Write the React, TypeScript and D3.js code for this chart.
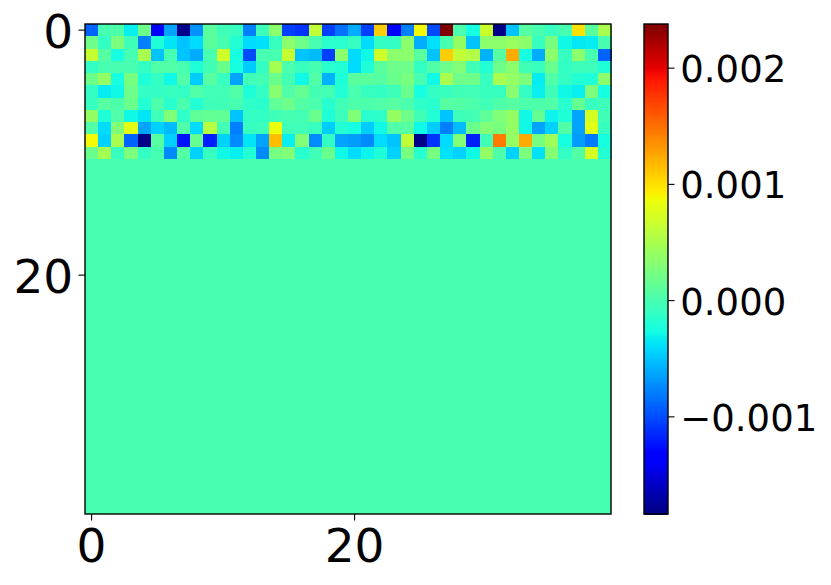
import React from "react";
import * as d3 from "d3";

const WIDTH = 831;
const HEIGHT = 585;
const COLS = 40;
const ROWS = 40;

// Values in units of 1e-4; all rows from row 11 down are zero.
const row0 = [-9,0,0.3,-3.2,2,-13.6,-6.3,-18,-7,1,-0.5,-0.8,-7.8,-0.5,3.5,-10.5,-11,6.3,-10.5,-8.4,-6,-10.5,10.8,-13.6,-7.8,8.8,-10,23.8,0.2,-2.5,6.8,-18,-5,0.8,0,-0.8,0,10,1,5];
const row1 = [2,-1,2.7,-0.3,-7.8,-2,-3.6,-5,-4,1,0,-1.8,-4,-3.8,-0.8,3.5,2,0,-1.5,-1.5,-0.8,-4,-1,-1,3.5,-6,-3.8,0,4,-5,3.5,3.5,4.2,3.5,-0.8,2.5,-2.8,-3.5,-3.3,0];
const row2 = [6.5,0.8,-2.5,0,5,-5,0,-5,-6,0,7,-2.5,-10,0,0,6.5,-5,-5.3,-10.5,3.5,-4,-2.8,7,3.5,3.5,1,-5,10.8,6.3,5.5,-5.7,0.8,12.4,-2.5,-6,3.5,-0.8,3.5,0,-9];
const row3 = [-1,0,0,0,-1,0.5,0.5,0,-2,-0.3,1.8,-2.5,-4.6,-1,4.8,0.2,-0.8,0,-1.5,-1.8,-4,-2,1,2,2,-1,0.5,2,3,-0.3,-1.8,2,3.5,-0.3,-0.7,1.8,-1,-0.5,-0.5,-2];
const row4 = [2,4,-2.5,2.5,-2,-1,-2.8,0.5,-4.6,0.8,-0.8,-6.3,-0.3,-0.2,1.8,-0.2,-2.8,0.5,-5.7,-2,1,1,0.7,1.8,2.5,0,-2.8,5,2,2,-0.8,5,4,2.7,-3.3,0.5,-1,-1.8,-2,3.5];
const row5 = [-1,-3.3,-2.8,2,-1,-1,-0.8,-1,0.5,-0.3,-0.3,0.5,-2,-1,3.3,0.5,1.5,-0.2,-0.2,-1.8,0.2,-0.8,-1,-0.5,1.8,-2.5,-1,-0.7,-0.3,-0.3,-0.8,-0.8,3.3,-1,-3.2,-0.4,-2.8,-3.2,2.7,-2.5];
const row6 = [-0.8,0.8,0.3,1.8,-1.8,0.3,-1.5,0.2,-1.8,-0.5,-0.3,0,-1.2,-1.5,1.3,2,0.6,0.2,-1.6,-0.3,0.3,0.3,0.5,0.8,0.2,-1.2,-1.5,0.8,0.6,0.3,-0.3,0.4,0.8,0.3,0.3,0.5,-1.5,1.5,-0.8,-0.5];
const row7 = [4,-2,0.5,-2.8,-3.6,-0.3,3,-1.2,1.2,1.5,1.3,-5,-1,-1,-0.3,0,-0.2,1.8,-2,-0.5,3,-1.5,-1.2,4,2,-0.3,-1.8,-5,-0.5,-0.2,1.2,3,4,-2.8,1.5,-3,-2,-6.3,7.3,-0.3];
const row8 = [0.5,-4,3,8,-6.3,-4.4,-5.3,0.5,-4,5.8,-0.2,-7.8,-0.8,-0.6,8.5,-0.3,-0.3,-0.8,-4.6,-1.8,-2.5,-4.6,-2.8,0.5,0.8,-2.8,-4.6,-7.8,-5.3,1.8,3,2.5,4,-2.8,-6.3,-4.4,0.5,-6.3,8,-0.8];
const row9 = [8.8,-4.4,5,-9,-18,0.8,-4.4,-12.3,1.5,-11.8,-4.4,-7.4,-3.6,-6.3,11.5,-3.2,3,-7.4,-1,-6.3,-6.6,-7.4,-4,-5,6.2,-18,-11,-4,3,-11.8,-0.3,14.5,4,12.4,2.5,4.5,-2.5,-6.6,-8,-2.5];
const row10 = [1.8,4.8,-0.8,2.7,-1,0,-7.4,0.6,-4.4,-0.8,-2.8,-3.2,-1.8,-7.4,2.5,3,-1.6,-0.3,1.8,-2.8,-4,-3,-2,-4.4,2.5,-1.6,2.5,-3.8,-4.4,-2.8,4,0.3,-4.4,2.7,-3.8,3.2,-1,0.6,7.3,-1.8];
const activeRows = [row0,row1,row2,row3,row4,row5,row6,row7,row8,row9,row10];

const V_MIN = -18.36;
const V_MAX = 23.8;
const axisTicks = [0, 20];
const colorbarTicks = [-10, 0, 10, 20];

const M = { left: 85, right: 611, top: 24, bottom: 514 };
const CB = { left: 644, right: 668 };

const jetR = d3.scaleLinear().domain([0, 0.35, 0.66, 0.89, 1]).range([0, 0, 1, 1, 0.5]).clamp(true);
const jetG = d3.scaleLinear().domain([0, 0.125, 0.375, 0.64, 0.91, 1]).range([0, 0, 1, 1, 0, 0]).clamp(true);
const jetB = d3.scaleLinear().domain([0, 0.11, 0.34, 0.65, 1]).range([0.5, 1, 1, 0, 0]).clamp(true);
const jet = (t: number) =>
  d3.rgb(jetR(t) * 255, jetG(t) * 255, jetB(t) * 255).formatHex();

const norm = d3.scaleLinear().domain([V_MIN, V_MAX]).range([0, 1]);
const x = d3.scaleLinear().domain([-0.5, COLS - 0.5]).range([M.left, M.right]);
const y = d3.scaleLinear().domain([-0.5, ROWS - 0.5]).range([M.top, M.bottom]);
const cbY = d3.scaleLinear().domain([V_MIN, V_MAX]).range([M.bottom, M.top]);
const FONT = "'DejaVu Sans', sans-serif";
const cbSteps = d3.range(0, 256);

const fmt = (v: number) => {
  const n = v / 10000;
  return (n < 0 ? "\u2212" : "") + Math.abs(n).toFixed(3);
};

export default function App() {
  return (
    <svg
      width={WIDTH}
      height={HEIGHT}
      style={{ position: "absolute", left: 0, top: 0, background: "#fff" }}
    >
      <rect
        x={M.left}
        y={M.top}
        width={M.right - M.left}
        height={M.bottom - M.top}
        fill={jet(norm(0))}
      />
      <g shapeRendering="crispEdges">
        {activeRows.map((row, r) =>
          row.map((v, c) => (
            <rect
              key={`${r}-${c}`}
              x={x(c - 0.5)}
              y={y(r - 0.5)}
              width={x(c + 0.5) - x(c - 0.5) + 0.5}
              height={y(r + 0.5) - y(r - 0.5) + 0.5}
              fill={jet(norm(v))}
            />
          ))
        )}
      </g>
      <rect
        x={M.left}
        y={M.top}
        width={M.right - M.left}
        height={M.bottom - M.top}
        fill="none"
        stroke="#000"
        strokeWidth={1.4}
      />
      {axisTicks.map((t) => (
        <g key={`x${t}`}>
          <line x1={x(t)} x2={x(t)} y1={M.bottom} y2={M.bottom + 6.5} stroke="#000" strokeWidth={1.1} />
          <text x={x(t)} y={M.bottom + 48} textAnchor="middle" fontFamily={FONT} fontSize={47}>
            {t}
          </text>
        </g>
      ))}
      {axisTicks.map((t) => (
        <g key={`y${t}`}>
          <line x1={M.left} x2={M.left - 6.5} y1={y(t)} y2={y(t)} stroke="#000" strokeWidth={1.1} />
          <text x={73.2} y={y(t) + 17.5} textAnchor="end" fontFamily={FONT} fontSize={47}>
            {t}
          </text>
        </g>
      ))}
      <g shapeRendering="crispEdges">
        {cbSteps.map((i) => {
          const y0 = M.bottom - ((M.bottom - M.top) * (i + 1)) / cbSteps.length;
          const y1 = M.bottom - ((M.bottom - M.top) * i) / cbSteps.length;
          return (
            <rect
              key={i}
              x={CB.left}
              y={y0}
              width={CB.right - CB.left}
              height={y1 - y0 + 0.5}
              fill={jet((i + 0.5) / cbSteps.length)}
            />
          );
        })}
      </g>
      <rect
        x={CB.left}
        y={M.top}
        width={CB.right - CB.left}
        height={M.bottom - M.top}
        fill="none"
        stroke="#000"
        strokeWidth={1.4}
      />
      {colorbarTicks.map((t) => (
        <g key={`c${t}`}>
          <line x1={CB.right} x2={CB.right + 6.5} y1={cbY(t)} y2={cbY(t)} stroke="#000" strokeWidth={1.1} />
          <text x={680.3} y={cbY(t) + 14} textAnchor="start" fontFamily={FONT} fontSize={37}>
            {fmt(t)}
          </text>
        </g>
      ))}
    </svg>
  );
}
